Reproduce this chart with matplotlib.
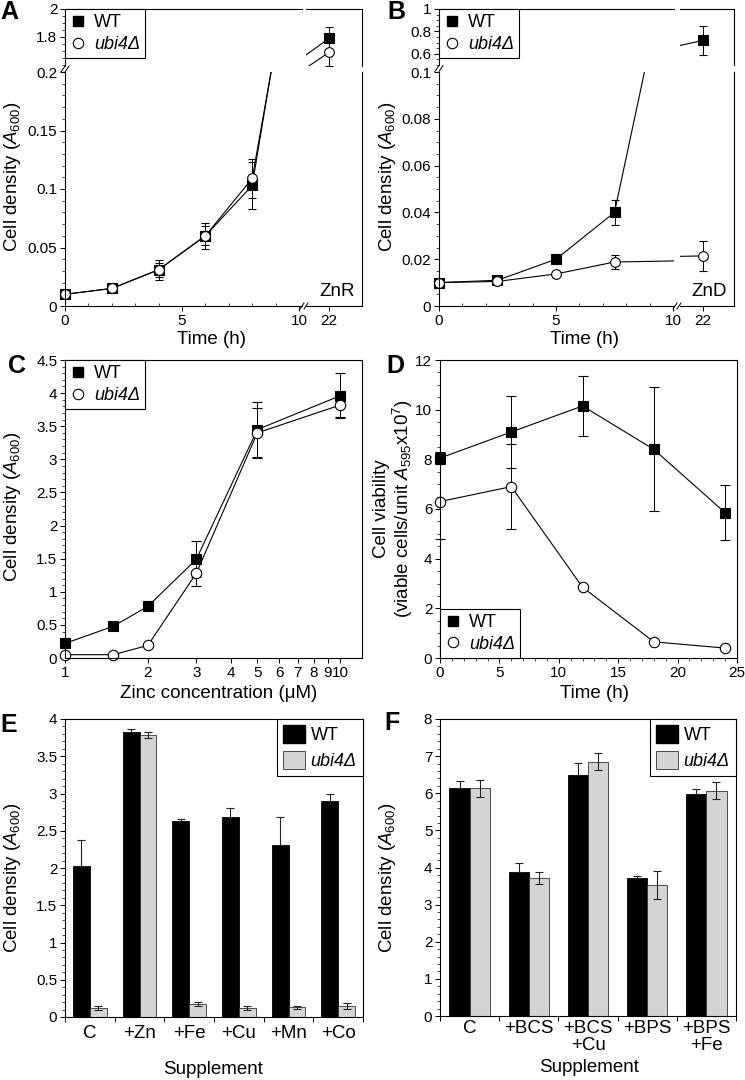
import matplotlib
matplotlib.use("Agg")
import matplotlib.pyplot as plt
import matplotlib.ticker as ticker
from matplotlib.lines import Line2D
from matplotlib.patches import Patch
import numpy as np

W, H = 745, 1080

plt.rcParams.update(
    {
        "font.family": ["Liberation Sans", "DejaVu Sans"],
        "mathtext.fontset": "custom",
        "mathtext.rm": "Liberation Sans",
        "mathtext.it": "Liberation Sans:italic",
        "mathtext.bf": "Liberation Sans:bold",
        "axes.linewidth": 0.8,
        "xtick.labelsize": 11,
        "ytick.labelsize": 11,
        "xtick.direction": "out",
        "ytick.direction": "out",
        "xtick.major.size": 3.5,
        "ytick.major.size": 3.5,
        "xtick.minor.size": 2,
        "ytick.minor.size": 2,
        "xtick.major.width": 0.7,
        "ytick.major.width": 0.7,
        "xtick.minor.width": 0.5,
        "ytick.minor.width": 0.5,
        "xtick.major.pad": 2,
        "ytick.major.pad": 2,
    }
)

_fs_label = 13.5
_fs_legend = 13
_gray = "#d4d4d4"
_ecol = "#222222"

# ---- data -----------------------------------------------------------------
# A: zinc-replete (ZnR) growth
a_time = [0, 2, 4, 6, 8, 22]
a_wt = [0.010, 0.015, 0.031, 0.060, 0.103, 1.79]
a_wt_err = [0.0, 0.0, 0.0085, 0.011, 0.020, 0.08]
a_ubi = [0.010, 0.015, 0.031, 0.060, 0.109, 1.69]
a_ubi_err = [0.0, 0.0, 0.006, 0.008, 0.017, 0.10]
a_yticks_top = [1.8, 2]
a_yticks_bot = [0, 0.05, 0.1, 0.15, 0.2]

# B: zinc-deficient (ZnD) growth
b_time = [0, 2.5, 5, 7.5, 22]
b_wt = [0.010, 0.011, 0.020, 0.040, 0.72]
b_wt_err = [0.0, 0.0, 0.0, 0.0053, 0.13]
b_ubi = [0.010, 0.0105, 0.0137, 0.0188, 0.0214]
b_ubi_err = [0.0, 0.0, 0.0, 0.003, 0.0065]
b_yticks_top = [0.6, 0.8, 1]
b_yticks_bot = [0, 0.02, 0.04, 0.06, 0.08, 0.1]

# C: zinc titration
c_zinc = [1, 1.5, 2, 3, 5, 10]
c_wt = [0.22, 0.48, 0.78, 1.49, 3.45, 3.96]
c_wt_err = [0.0, 0.0, 0.0, 0.27, 0.42, 0.34]
c_ubi = [0.05, 0.05, 0.19, 1.28, 3.40, 3.82]
c_ubi_err = [0.0, 0.0, 0.0, 0.19, 0.38, 0.18]
c_xticks = [1, 2, 3, 4, 5, 6, 7, 8, 9, 10]

# D: viability
d_time = [0, 6, 12, 18, 24]
d_wt = [8.05, 9.1, 10.15, 8.4, 5.85]
d_wt_err = [0.25, 1.45, 1.2, 2.5, 1.1]
d_ubi = [6.3, 6.9, 2.85, 0.65, 0.4]
d_ubi_err = [1.5, 1.7, 0.0, 0.0, 0.0]

# E: metal supplements
e_supp = ["C", "+Zn", "+Fe", "+Cu", "+Mn", "+Co"]
e_wt = [2.03, 3.82, 2.63, 2.68, 2.31, 2.90]
e_wt_err = [0.34, 0.04, 0.03, 0.12, 0.37, 0.09]
e_ubi = [0.12, 3.79, 0.17, 0.12, 0.13, 0.15]
e_ubi_err = [0.03, 0.04, 0.025, 0.03, 0.02, 0.04]

# F: chelators
f_supp = ["C", "+BCS", "+BCS\n+Cu", "+BPS", "+BPS\n+Fe"]
f_wt = [6.15, 3.88, 6.50, 3.72, 5.99]
f_wt_err = [0.18, 0.24, 0.32, 0.06, 0.13]
f_ubi = [6.13, 3.72, 6.85, 3.52, 6.07]
f_ubi_err = [0.22, 0.17, 0.23, 0.38, 0.23]

_ylab = r"Cell density ($\mathit{A}_{600}$)"


def px_rect(l, t, r, b):
    return [l / W, 1 - b / H, (r - l) / W, (b - t) / H]


def ftext(x, y, s, **kw):
    kw.setdefault("ha", "center")
    kw.setdefault("va", "center")
    return fig.text(x / W, 1 - y / H, s, **kw)


def fline(xs, ys):
    fig.add_artist(
        Line2D([x / W for x in xs], [1 - y / H for y in ys], color="black",
               lw=0.7, transform=fig.transFigure)
    )


def gfmt(v, _):
    return f"{v:g}"


def marker_handles(ms):
    return [
        Line2D([], [], ls="none", marker="s", ms=ms, mfc="black", mec="black"),
        Line2D([], [], ls="none", marker="o", ms=ms, mfc="white", mec="black", mew=0.8),
    ]


def italic_second(leg):
    leg.get_texts()[1].set_fontstyle("italic")
    leg.get_frame().set_linewidth(0.8)


def draw_series(ax, x, y, err, marker, fill, ms, cap):
    eb = ax.errorbar(
        x, y, yerr=err, color="black", lw=0.8, marker=marker, ms=ms,
        mfc=fill, mec="black", mew=0.8, ecolor="black", elinewidth=0.7,
        capsize=cap, capthick=0.7,
    )
    for art in [eb.lines[0], *eb.lines[1], *eb.lines[2]]:
        art.set_clip_on(False)


_leg_kw = dict(
    fontsize=_fs_legend, handlelength=0.8, handletextpad=0.5, borderpad=0.3,
    labelspacing=0.25, fancybox=False, edgecolor="black", framealpha=1,
    borderaxespad=0,
)

fig = plt.figure(figsize=(W / 100, H / 100), dpi=100)


###############################################################################
# A and B: broken axes


def broken_panel(g, series, yt_top, yt_bot, note):
    l, r, t, b = g["left"], g["right"], g["top"], g["bottom"]
    bx0, bx1 = g["xbreak"]
    by0, by1 = g["ybreak"]
    pxh = g["pxh"]
    ax_bl = fig.add_axes(px_rect(l, by1, bx0, b))
    ax_br = fig.add_axes(px_rect(bx1, by1, r, b))
    ax_tl = fig.add_axes(px_rect(l, t, bx0, by0))
    ax_tr = fig.add_axes(px_rect(bx1, t, r, by0))
    axs = [ax_bl, ax_br, ax_tl, ax_tr]

    xl_left = (0, (bx0 - l) / pxh)
    xl_right = (22 - (g["x22"] - bx1) / pxh, 22 + (r - g["x22"]) / pxh)
    yl_bot = (0, g["ybot_max"])
    yl_top = (g["ytop_max"] - (by0 - t) / g["pxu_top"], g["ytop_max"])
    for ax, xl, yl in [
        (ax_bl, xl_left, yl_bot),
        (ax_br, xl_right, yl_bot),
        (ax_tl, xl_left, yl_top),
        (ax_tr, xl_right, yl_top),
    ]:
        ax.set_xlim(xl)
        ax.set_ylim(yl)
        ax.set_facecolor("none")

    ax_bl.spines[["top", "right"]].set_visible(False)
    ax_br.spines[["top", "left"]].set_visible(False)
    ax_tl.spines[["bottom", "right"]].set_visible(False)
    ax_tr.spines[["bottom", "left"]].set_visible(False)

    ax_bl.set_xticks([0, 5, 10])
    ax_bl.xaxis.set_minor_locator(ticker.MultipleLocator(1))
    ax_bl.tick_params(axis="x", which="minor", direction="in")
    ax_bl.set_yticks(yt_bot)
    ax_bl.yaxis.set_minor_locator(ticker.MultipleLocator(g["ybot_minor"]))
    ax_bl.yaxis.set_major_formatter(ticker.FuncFormatter(gfmt))
    ax_br.set_xticks([22])
    ax_br.set_yticks([])
    ax_tl.set_xticks([])
    ax_tl.set_yticks(yt_top)
    ax_tl.yaxis.set_minor_locator(ticker.MultipleLocator(0.05))
    ax_tl.yaxis.set_major_formatter(ticker.FuncFormatter(gfmt))
    ax_tr.set_xticks([])
    ax_tr.set_yticks([])

    for x, y, err, marker, fill in series:
        for ax in axs:
            ax.plot(x, y, color="black", lw=0.8, zorder=2)
        for xi, yi, ei in zip(x, y, err):
            for ax in axs:
                x0, x1 = ax.get_xlim()
                y0, y1 = ax.get_ylim()
                if x0 <= xi <= x1 and y0 <= yi <= y1:
                    draw_series(ax, [xi], [yi], [ei], marker, fill, 7, 3)

    leg = ax_tl.legend(marker_handles(7.5), ["WT", "ubi4Δ"], loc="upper left",
                       bbox_to_anchor=(0, 1), **_leg_kw)
    italic_second(leg)

    # break marks on the left and bottom spines
    ym = (by0 + by1) / 2
    for dx in (-2, 2):
        fline([l + dx - 2, l + dx + 2], [ym + 3, ym - 3])
    xm = (bx0 + bx1) / 2
    for dx in (-2, 2):
        fline([xm + dx - 2, xm + dx + 2], [b + 3, b - 3])

    ftext(g["note_x"], 292, note, fontsize=_fs_label)
    ftext((l + r) / 2 - 2, 339, "Time (h)", fontsize=_fs_label)
    ftext(l - 52, 177, _ylab, rotation=90, fontsize=_fs_label)


geom_a = dict(left=65, right=362, top=9, bottom=306, xbreak=(302, 306),
              ybreak=(66, 72), pxh=23.4, x22=329, ybot_max=0.2, ytop_max=2.0,
              pxu_top=140, ybot_minor=0.01, note_x=337)
geom_b = dict(left=439, right=734, top=9, bottom=306, xbreak=(674, 680),
              ybreak=(65, 72), pxh=23.4, x22=703, ybot_max=0.1, ytop_max=1.0,
              pxu_top=112, ybot_minor=0.005, note_x=709)

broken_panel(
    geom_a,
    [(a_time, a_wt, a_wt_err, "s", "black"), (a_time, a_ubi, a_ubi_err, "o", "white")],
    a_yticks_top, a_yticks_bot, "ZnR",
)
broken_panel(
    geom_b,
    [(b_time, b_wt, b_wt_err, "s", "black"), (b_time, b_ubi, b_ubi_err, "o", "white")],
    b_yticks_top, b_yticks_bot, "ZnD",
)

###############################################################################
# C: zinc concentration

ax = fig.add_axes(px_rect(65, 360, 362, 658))
ax.set_xscale("log")
ax.set_xlim(1, 12)
ax.set_ylim(0, 4.5)
ax.xaxis.set_major_locator(ticker.FixedLocator(c_xticks))
ax.xaxis.set_minor_locator(ticker.NullLocator())
ax.xaxis.set_major_formatter(ticker.FuncFormatter(gfmt))
ax.yaxis.set_major_locator(ticker.MultipleLocator(0.5))
ax.yaxis.set_minor_locator(ticker.MultipleLocator(0.1))
ax.yaxis.set_major_formatter(ticker.FuncFormatter(gfmt))
draw_series(ax, c_zinc, c_wt, c_wt_err, "s", "black", 7.5, 3.5)
draw_series(ax, c_zinc, c_ubi, c_ubi_err, "o", "white", 7.5, 3.5)
leg = ax.legend(marker_handles(7.5), ["WT", "ubi4Δ"], loc="upper left",
                bbox_to_anchor=(0, 1), **_leg_kw)
italic_second(leg)
ftext(219, 693, "Zinc concentration (μM)", fontsize=_fs_label)
ftext(13, 507, _ylab, rotation=90, fontsize=_fs_label)

###############################################################################
# D: viability

ax = fig.add_axes(px_rect(440, 360, 737, 658))
ax.set_xlim(0, 25)
ax.set_ylim(0, 12)
ax.xaxis.set_major_locator(ticker.MultipleLocator(5))
ax.xaxis.set_minor_locator(ticker.MultipleLocator(1))
ax.yaxis.set_major_locator(ticker.MultipleLocator(2))
ax.yaxis.set_minor_locator(ticker.MultipleLocator(0.5))
draw_series(ax, d_time, d_wt, d_wt_err, "s", "black", 7.5, 3.5)
draw_series(ax, d_time, d_ubi, d_ubi_err, "o", "white", 7.5, 3.5)
leg = ax.legend(marker_handles(7.5), ["WT", "ubi4Δ"], loc="lower left",
                bbox_to_anchor=(0, 0), **_leg_kw)
italic_second(leg)
ftext(595, 693, "Time (h)", fontsize=_fs_label)
ftext(394, 509,
      "Cell viability\n" + r"(viable cells/unit $\mathit{A}_{595}$x10$^{7}$)",
      rotation=90, fontsize=_fs_label, linespacing=1.0)

###############################################################################
# E and F: bar charts


def bar_panel(rect, cats, wt, wt_err, ubi, ubi_err, ymax, ystep, yminor, pad,
              xlab_xy, ylab_x):
    ax = fig.add_axes(px_rect(*rect))
    w = 0.34
    x = np.arange(len(cats)) + 0.5
    ax.bar(x - w / 2, wt, w, color="black", edgecolor="black", lw=0.6, zorder=2)
    ax.bar(x + w / 2, ubi, w, color=_gray, edgecolor="#333333", lw=0.6, zorder=2)
    ax.errorbar(x - w / 2, wt, yerr=[np.zeros(len(wt)), wt_err], fmt="none",
                ecolor=_ecol, elinewidth=0.8, capsize=3, capthick=0.8, zorder=3)
    ax.errorbar(x + w / 2, ubi, yerr=ubi_err, fmt="none", ecolor=_ecol,
                elinewidth=0.8, capsize=3, capthick=0.8, zorder=3)
    ax.set_xlim(0, len(cats))
    ax.set_ylim(0, ymax)
    ax.set_xticks(np.arange(len(cats) + 1))
    ax.set_xticklabels([])
    ax.set_xticks(x, minor=True)
    ax.set_xticklabels(cats, minor=True, fontsize=13.5, va="top", linespacing=1.0)
    ax.tick_params(axis="x", which="minor", length=0, pad=pad)
    ax.yaxis.set_major_locator(ticker.MultipleLocator(ystep))
    ax.yaxis.set_minor_locator(ticker.MultipleLocator(yminor))
    ax.yaxis.set_major_formatter(ticker.FuncFormatter(gfmt))
    leg = ax.legend(
        [Patch(facecolor="black", edgecolor="black"),
         Patch(facecolor=_gray, edgecolor="#333333", lw=0.6)],
        ["WT", "ubi4Δ"], loc="upper right", bbox_to_anchor=(1, 1),
        borderaxespad=0, fontsize=_fs_legend, handlelength=1.2,
        handleheight=1.15, handletextpad=0.3, borderpad=0.35, labelspacing=0.35,
        fancybox=False, edgecolor="black", framealpha=1,
    )
    italic_second(leg)
    ftext(xlab_xy[0], xlab_xy[1], "Supplement", fontsize=_fs_label)
    ftext(ylab_x, 878, _ylab, rotation=90, fontsize=_fs_label)
    return ax


bar_panel((65, 719, 363, 1017), e_supp, e_wt, e_wt_err, e_ubi, e_ubi_err,
          4, 0.5, 0.1, 6, (213, 1070), 13)
bar_panel((440, 719, 736, 1016), f_supp, f_wt, f_wt_err, f_ubi, f_ubi_err,
          8, 1, 0.2, 3, (589, 1068), 388)

###############################################################################
# panel letters

for letter, (px, py) in {
    "A": (9, 12), "B": (396, 12), "C": (17, 366),
    "D": (395, 366), "E": (9, 725), "F": (392, 723),
}.items():
    ftext(px, py, letter, fontsize=18, fontweight="bold")

fig.savefig("out.png", dpi=100)
